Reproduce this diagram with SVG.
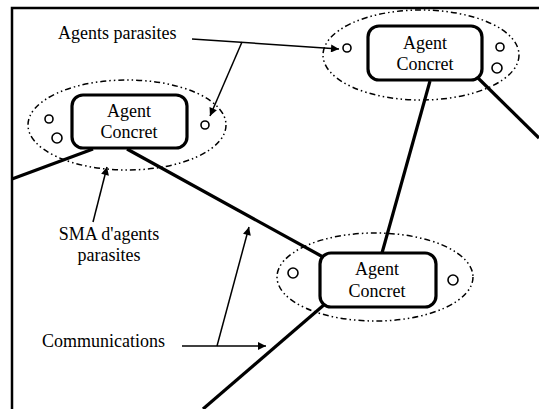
<svg xmlns="http://www.w3.org/2000/svg" width="539" height="409" viewBox="0 0 539 409" font-family="Liberation Serif, Times New Roman, serif" font-size="18">
<style>
.c{text-anchor:middle}
.box{fill:#fff;stroke:#000;stroke-width:3.2}
.ell{fill:none;stroke:#000;stroke-width:1.5;stroke-dasharray:6 3 1.5 3 1.5 3}
.dot{fill:#fff;stroke:#000;stroke-width:1.6}
.link{stroke:#000;stroke-width:3.2;fill:none}
.ann{stroke:#000;stroke-width:1.5;fill:none}
.arr{marker-end:url(#ah)}
.frame{stroke:#000;stroke-width:2.5;fill:none}
</style>
<defs>
<marker id="ah" viewBox="0 0 10 10" refX="10" refY="5" markerWidth="10" markerHeight="8" markerUnits="userSpaceOnUse" orient="auto">
<path d="M0,0 L10,5 L0,10 z" fill="#000"/>
</marker>
</defs>
<rect width="539" height="409" fill="#fff"/>
<path class="frame" d="M12,409 L12,8 L539,8"/>
<g id="connectors">
<line class="link" x1="12" y1="179" x2="93" y2="149"/>
<line class="link" x1="127" y1="149" x2="323" y2="257"/>
<line class="link" x1="430" y1="81" x2="382" y2="253"/>
<line class="link" x1="478" y1="78" x2="539" y2="138"/>
<line class="link" x1="325" y1="304" x2="203" y2="409"/>
</g>
<g id="node1">
<ellipse class="ell" cx="127" cy="125" rx="99" ry="45"/>
<circle class="dot" cx="49" cy="119" r="4"/>
<circle class="dot" cx="57" cy="138" r="5"/>
<circle class="dot" cx="205" cy="125" r="4"/>
<rect class="box" x="72" y="95" width="115" height="53" rx="11"/>
<text class="c" x="129" y="117">Agent</text>
<text class="c" x="129" y="138">Concret</text>
</g>
<g id="node2">
<ellipse class="ell" cx="421" cy="55" rx="98" ry="45"/>
<circle class="dot" cx="347" cy="48" r="4"/>
<circle class="dot" cx="500" cy="47" r="4"/>
<circle class="dot" cx="497" cy="68" r="5"/>
<rect class="box" x="368" y="26" width="114" height="54" rx="11"/>
<text class="c" x="425" y="49">Agent</text>
<text class="c" x="425" y="70">Concret</text>
</g>
<g id="node3">
<ellipse class="ell" cx="375" cy="277" rx="98" ry="44"/>
<circle class="dot" cx="293" cy="273" r="5"/>
<circle class="dot" cx="453" cy="280" r="5"/>
<rect class="box" x="320" y="253" width="116" height="54" rx="11"/>
<text class="c" x="377" y="275">Agent</text>
<text class="c" x="377" y="297">Concret</text>
</g>
<g id="annotations">
<text x="58" y="39">Agents parasites</text>
<line class="ann arr" x1="192" y1="39" x2="339" y2="49"/>
<line class="ann arr" x1="242" y1="42" x2="210" y2="116"/>
<text class="c" x="109" y="240">SMA d'agents</text>
<text class="c" x="109" y="261">parasites</text>
<line class="ann arr" x1="93" y1="222" x2="107" y2="167"/>
<text x="42" y="347">Communications</text>
<line class="ann arr" x1="182" y1="346" x2="266" y2="346"/>
<line class="ann arr" x1="217" y1="346" x2="249" y2="227"/>
</g>
</svg>
